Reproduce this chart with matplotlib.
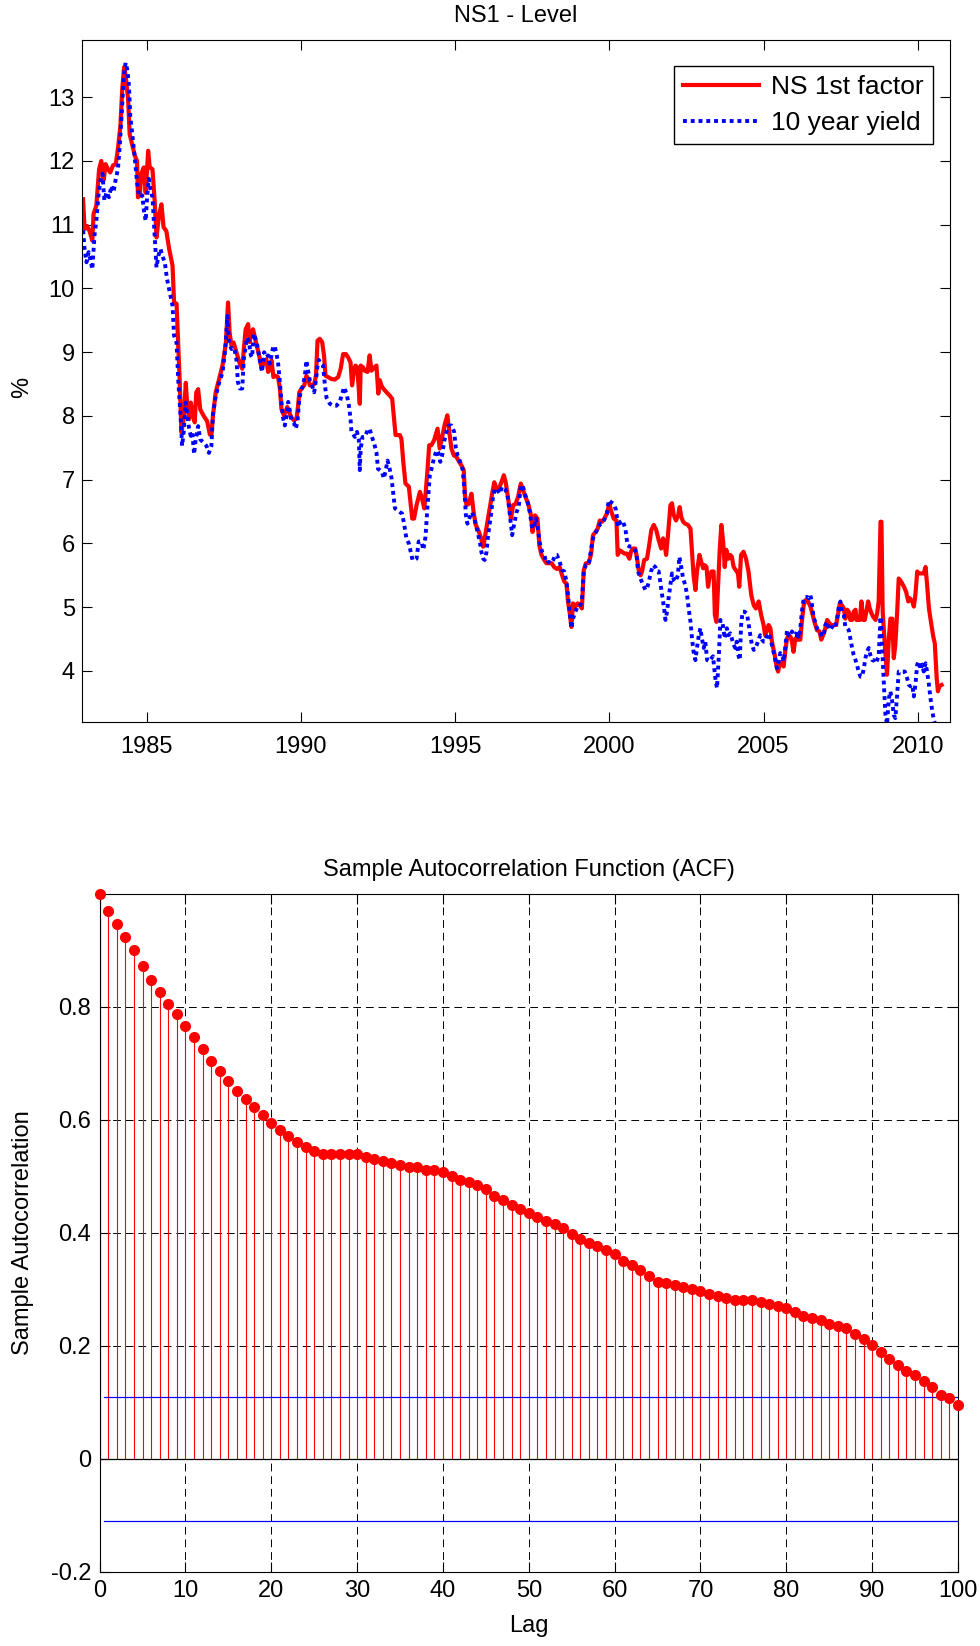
import matplotlib
matplotlib.use('Agg')
import matplotlib.pyplot as plt
import numpy as np

plt.rcParams['font.family'] = ['Liberation Sans', 'DejaVu Sans']

# NS 1st factor (level): (year, %)
ns_factor = [
    (1982.94, 11.40), (1982.99, 10.93), (1983.07, 10.98), (1983.15, 10.90), (1983.24, 10.75),
    (1983.28, 11.17), (1983.37, 11.30), (1983.46, 11.87), (1983.53, 12.00), (1983.61, 11.70),
    (1983.67, 11.95), (1983.75, 11.87), (1983.82, 11.82), (1983.91, 11.93), (1984.00, 11.95),
    (1984.07, 12.19), (1984.15, 12.55), (1984.21, 13.13), (1984.27, 13.47), (1984.32, 13.34),
    (1984.40, 12.97), (1984.45, 12.42), (1984.54, 12.24), (1984.62, 12.08), (1984.69, 12.00),
    (1984.72, 11.43), (1984.78, 11.46), (1984.83, 11.80), (1984.91, 11.90), (1984.97, 11.50),
    (1985.05, 12.16), (1985.10, 11.90), (1985.19, 11.87), (1985.26, 11.38), (1985.32, 10.80),
    (1985.40, 11.14), (1985.48, 11.32), (1985.55, 10.96), (1985.64, 10.90), (1985.73, 10.62),
    (1985.84, 10.36), (1985.89, 9.78), (1985.97, 9.76), (1986.02, 9.15), (1986.07, 8.58),
    (1986.13, 7.74), (1986.20, 7.95), (1986.27, 8.52), (1986.31, 8.21), (1986.38, 7.95),
    (1986.43, 8.21), (1986.51, 8.00), (1986.56, 7.90), (1986.61, 8.37), (1986.67, 8.42),
    (1986.74, 8.10), (1986.85, 8.00), (1986.96, 7.92), (1987.05, 7.71), (1987.10, 7.69),
    (1987.15, 8.00), (1987.24, 8.37), (1987.35, 8.58), (1987.46, 8.79), (1987.57, 9.15),
    (1987.64, 9.78), (1987.69, 9.31), (1987.75, 9.10), (1987.82, 9.15), (1987.94, 8.95),
    (1988.02, 8.82), (1988.10, 8.74), (1988.16, 9.10), (1988.21, 9.36), (1988.29, 9.44),
    (1988.34, 9.16), (1988.40, 9.31), (1988.45, 9.36), (1988.51, 9.23), (1988.57, 9.10),
    (1988.64, 8.97), (1988.72, 8.76), (1988.81, 8.84), (1988.88, 8.89), (1988.94, 8.69),
    (1988.99, 8.74), (1989.05, 8.87), (1989.11, 8.61), (1989.18, 8.63), (1989.26, 8.61),
    (1989.32, 8.43), (1989.37, 8.11), (1989.45, 8.01), (1989.50, 8.06), (1989.56, 8.14),
    (1989.62, 8.06), (1989.69, 7.98), (1989.78, 7.93), (1989.86, 7.96), (1989.91, 8.16),
    (1989.95, 8.37), (1990.02, 8.43), (1990.11, 8.48), (1990.18, 8.63), (1990.24, 8.58),
    (1990.29, 8.48), (1990.36, 8.48), (1990.43, 8.50), (1990.49, 8.63), (1990.54, 9.18),
    (1990.61, 9.21), (1990.69, 9.16), (1990.75, 8.95), (1990.80, 8.63), (1990.88, 8.61),
    (1990.99, 8.58), (1991.10, 8.57), (1991.21, 8.61), (1991.29, 8.74), (1991.37, 8.97),
    (1991.46, 8.97), (1991.53, 8.92), (1991.61, 8.84), (1991.66, 8.48), (1991.73, 8.74),
    (1991.77, 8.79), (1991.83, 8.76), (1991.91, 8.19), (1991.94, 8.79), (1992.02, 8.76),
    (1992.07, 8.71), (1992.16, 8.69), (1992.23, 8.95), (1992.29, 8.71), (1992.38, 8.76),
    (1992.45, 8.79), (1992.51, 8.35), (1992.56, 8.56), (1992.61, 8.48), (1992.67, 8.43),
    (1992.78, 8.37), (1992.88, 8.32), (1992.96, 8.27), (1993.02, 7.96), (1993.07, 7.70),
    (1993.21, 7.70), (1993.26, 7.64), (1993.32, 7.28), (1993.39, 6.94), (1993.50, 6.89),
    (1993.61, 6.39), (1993.67, 6.39), (1993.75, 6.60), (1993.86, 6.81), (1993.93, 6.70),
    (1994.00, 6.55), (1994.04, 6.76), (1994.10, 7.12), (1994.16, 7.54), (1994.23, 7.54),
    (1994.32, 7.62), (1994.43, 7.80), (1994.50, 7.49), (1994.58, 7.67), (1994.67, 7.88),
    (1994.75, 8.01), (1994.81, 7.75), (1994.88, 7.49), (1994.96, 7.38), (1995.04, 7.36),
    (1995.13, 7.28), (1995.21, 7.22), (1995.28, 7.15), (1995.32, 6.76), (1995.37, 6.60),
    (1995.44, 6.62), (1995.53, 6.78), (1995.60, 6.49), (1995.67, 6.29), (1995.75, 6.21),
    (1995.83, 6.10), (1995.91, 5.95), (1995.96, 6.08), (1996.05, 6.34), (1996.13, 6.57),
    (1996.20, 6.78), (1996.27, 6.96), (1996.34, 6.86), (1996.42, 6.86), (1996.50, 6.96),
    (1996.58, 7.07), (1996.64, 6.96), (1996.72, 6.70), (1996.81, 6.39), (1996.88, 6.60),
    (1996.96, 6.62), (1997.04, 6.73), (1997.13, 6.94), (1997.21, 6.83), (1997.28, 6.73),
    (1997.37, 6.62), (1997.46, 6.44), (1997.51, 6.18), (1997.59, 6.44), (1997.67, 6.39),
    (1997.73, 5.97), (1997.80, 5.82), (1997.89, 5.74), (1997.96, 5.69), (1998.04, 5.69),
    (1998.13, 5.69), (1998.21, 5.63), (1998.30, 5.60), (1998.39, 5.63), (1998.47, 5.50),
    (1998.54, 5.40), (1998.61, 5.37), (1998.66, 5.09), (1998.71, 4.93), (1998.77, 4.69),
    (1998.82, 5.06), (1998.90, 5.01), (1998.97, 5.06), (1999.04, 5.03), (1999.11, 4.98),
    (1999.17, 5.58), (1999.24, 5.69), (1999.33, 5.69), (1999.41, 5.84), (1999.47, 6.13),
    (1999.55, 6.18), (1999.62, 6.23), (1999.69, 6.36), (1999.76, 6.34), (1999.84, 6.39),
    (1999.92, 6.47), (2000.00, 6.62), (2000.05, 6.52), (2000.14, 6.39), (2000.23, 6.36),
    (2000.27, 5.82), (2000.34, 5.89), (2000.41, 5.87), (2000.49, 5.84), (2000.57, 5.84),
    (2000.65, 5.76), (2000.70, 5.87), (2000.77, 5.92), (2000.84, 5.92), (2000.90, 5.76),
    (2000.95, 5.58), (2001.01, 5.50), (2001.06, 5.56), (2001.13, 5.74), (2001.22, 5.76),
    (2001.29, 5.97), (2001.36, 6.21), (2001.44, 6.29), (2001.52, 6.21), (2001.60, 6.05),
    (2001.68, 5.92), (2001.74, 6.08), (2001.78, 6.02), (2001.84, 5.82), (2001.90, 6.13),
    (2001.98, 6.60), (2002.03, 6.63), (2002.09, 6.44), (2002.16, 6.36), (2002.23, 6.44),
    (2002.28, 6.57), (2002.33, 6.42), (2002.39, 6.34), (2002.46, 6.31), (2002.55, 6.29),
    (2002.63, 6.23), (2002.68, 5.87), (2002.73, 5.50), (2002.79, 5.27), (2002.84, 5.56),
    (2002.92, 5.82), (2002.98, 5.71), (2003.04, 5.61), (2003.09, 5.66), (2003.15, 5.63),
    (2003.20, 5.32), (2003.24, 5.45), (2003.31, 5.56), (2003.38, 5.56), (2003.42, 4.88),
    (2003.47, 4.77), (2003.52, 5.29), (2003.58, 5.92), (2003.63, 6.29), (2003.69, 6.02),
    (2003.74, 5.63), (2003.79, 5.90), (2003.86, 5.76), (2003.92, 5.82), (2003.97, 5.79),
    (2004.03, 5.63), (2004.10, 5.58), (2004.17, 5.53), (2004.21, 5.32), (2004.27, 5.82),
    (2004.35, 5.87), (2004.43, 5.76), (2004.51, 5.56), (2004.60, 5.19), (2004.68, 5.03),
    (2004.75, 4.98), (2004.84, 5.09), (2004.92, 4.88), (2005.00, 4.72), (2005.05, 4.56),
    (2005.11, 4.64), (2005.16, 4.72), (2005.22, 4.67), (2005.27, 4.46), (2005.36, 4.25),
    (2005.41, 4.10), (2005.47, 3.99), (2005.52, 4.10), (2005.60, 4.15), (2005.65, 4.07),
    (2005.70, 4.30), (2005.76, 4.51), (2005.81, 4.56), (2005.87, 4.54), (2005.92, 4.46),
    (2005.97, 4.30), (2006.03, 4.51), (2006.11, 4.49), (2006.19, 4.49), (2006.24, 4.77),
    (2006.30, 5.03), (2006.35, 5.11), (2006.44, 5.09), (2006.52, 5.01), (2006.59, 4.88),
    (2006.66, 4.75), (2006.73, 4.64), (2006.81, 4.62), (2006.87, 4.49), (2006.95, 4.59),
    (2007.00, 4.67), (2007.06, 4.80), (2007.13, 4.75), (2007.20, 4.72), (2007.27, 4.72),
    (2007.35, 4.72), (2007.41, 4.88), (2007.47, 5.06), (2007.54, 5.03), (2007.60, 4.98),
    (2007.65, 4.82), (2007.71, 4.96), (2007.76, 4.93), (2007.81, 4.80), (2007.87, 4.80),
    (2007.92, 4.93), (2007.98, 4.96), (2008.01, 4.80), (2008.06, 4.80), (2008.12, 4.80),
    (2008.17, 5.09), (2008.23, 4.80), (2008.28, 4.80), (2008.33, 4.93), (2008.39, 5.09),
    (2008.44, 4.98), (2008.50, 4.90), (2008.55, 4.85), (2008.63, 4.80), (2008.68, 4.90),
    (2008.73, 5.09), (2008.79, 6.34), (2008.82, 6.34), (2008.86, 4.93), (2008.93, 4.41),
    (2009.00, 3.94), (2009.06, 4.51), (2009.11, 4.82), (2009.17, 4.82), (2009.22, 4.20),
    (2009.27, 4.41), (2009.33, 4.93), (2009.38, 5.45), (2009.46, 5.40), (2009.55, 5.32),
    (2009.62, 5.24), (2009.69, 5.09), (2009.74, 5.14), (2009.82, 5.09), (2009.87, 5.01),
    (2009.92, 5.19), (2009.98, 5.56), (2010.03, 5.53), (2010.12, 5.53), (2010.19, 5.53),
    (2010.25, 5.63), (2010.30, 5.35), (2010.36, 4.98), (2010.44, 4.72), (2010.50, 4.54),
    (2010.55, 4.43), (2010.61, 3.89), (2010.65, 3.68), (2010.70, 3.76), (2010.77, 3.78),
]

# 10 year yield: (year, %)
yield_10y = [
    (1982.94, 10.91), (1982.99, 10.62), (1983.05, 10.41), (1983.12, 10.57), (1983.19, 10.43),
    (1983.24, 10.30), (1983.31, 10.83), (1983.37, 11.06), (1983.44, 11.46), (1983.50, 11.69),
    (1983.57, 11.80), (1983.63, 11.38), (1983.70, 11.51), (1983.78, 11.43), (1983.86, 11.61),
    (1983.93, 11.51), (1984.00, 11.72), (1984.07, 11.87), (1984.13, 12.24), (1984.19, 12.71),
    (1984.26, 13.34), (1984.32, 13.54), (1984.38, 13.42), (1984.43, 13.16), (1984.47, 12.71),
    (1984.54, 12.40), (1984.61, 12.08), (1984.69, 11.66), (1984.75, 11.46), (1984.81, 11.43),
    (1984.86, 11.46), (1984.92, 11.19), (1984.97, 11.06), (1985.02, 11.46), (1985.07, 11.72),
    (1985.12, 11.56), (1985.19, 11.43), (1985.25, 10.93), (1985.32, 10.33), (1985.38, 10.51),
    (1985.45, 10.62), (1985.51, 10.51), (1985.59, 10.41), (1985.66, 10.15), (1985.75, 9.94),
    (1985.84, 9.73), (1985.89, 9.26), (1985.97, 9.15), (1986.03, 8.52), (1986.10, 8.00),
    (1986.15, 7.53), (1986.20, 7.74), (1986.27, 8.21), (1986.32, 8.00), (1986.38, 7.79),
    (1986.43, 7.69), (1986.48, 7.74), (1986.54, 7.40), (1986.59, 7.63), (1986.67, 7.84),
    (1986.74, 7.63), (1986.85, 7.58), (1986.94, 7.53), (1987.02, 7.42), (1987.10, 7.53),
    (1987.15, 8.03), (1987.24, 8.31), (1987.35, 8.52), (1987.46, 8.68), (1987.55, 9.05),
    (1987.62, 9.57), (1987.67, 9.15), (1987.75, 9.05), (1987.82, 9.07), (1987.86, 9.02),
    (1987.91, 8.89), (1987.96, 8.53), (1988.02, 8.43), (1988.10, 8.43), (1988.15, 8.89),
    (1988.20, 9.05), (1988.26, 9.23), (1988.31, 9.18), (1988.38, 8.95), (1988.42, 8.92),
    (1988.47, 9.29), (1988.53, 9.21), (1988.57, 9.16), (1988.64, 8.95), (1988.70, 8.79),
    (1988.74, 8.69), (1988.81, 9.00), (1988.88, 8.92), (1988.94, 8.95), (1988.99, 8.82),
    (1989.05, 8.95), (1989.10, 9.08), (1989.15, 9.10), (1989.21, 8.97), (1989.26, 8.84),
    (1989.32, 8.53), (1989.37, 8.22), (1989.42, 7.98), (1989.48, 7.85), (1989.53, 7.98),
    (1989.59, 8.22), (1989.64, 8.09), (1989.69, 7.93), (1989.77, 7.90), (1989.83, 7.80),
    (1989.89, 7.90), (1989.94, 8.22), (1989.99, 8.37), (1990.07, 8.48), (1990.13, 8.63),
    (1990.18, 8.87), (1990.24, 8.69), (1990.29, 8.56), (1990.36, 8.48), (1990.43, 8.37),
    (1990.48, 8.53), (1990.54, 8.79), (1990.58, 8.88), (1990.65, 8.82), (1990.72, 8.79),
    (1990.78, 8.48), (1990.83, 8.29), (1990.94, 8.19), (1991.05, 8.16), (1991.15, 8.16),
    (1991.26, 8.22), (1991.34, 8.35), (1991.40, 8.45), (1991.48, 8.35), (1991.55, 8.19),
    (1991.61, 7.96), (1991.64, 7.75), (1991.69, 7.72), (1991.75, 7.67), (1991.82, 7.75),
    (1991.88, 7.62), (1991.91, 7.15), (1991.94, 7.49), (1992.00, 7.67), (1992.07, 7.67),
    (1992.16, 7.77), (1992.23, 7.80), (1992.29, 7.69), (1992.38, 7.56), (1992.45, 7.43),
    (1992.50, 7.17), (1992.56, 7.15), (1992.63, 7.12), (1992.69, 7.02), (1992.74, 7.12),
    (1992.81, 7.30), (1992.88, 7.17), (1992.94, 7.02), (1992.99, 6.81), (1993.05, 6.55),
    (1993.13, 6.52), (1993.21, 6.49), (1993.28, 6.47), (1993.35, 6.30), (1993.42, 6.08),
    (1993.50, 6.00), (1993.56, 5.87), (1993.62, 5.74), (1993.69, 5.74), (1993.75, 5.76),
    (1993.82, 6.03), (1993.91, 6.03), (1993.97, 5.90), (1994.04, 6.10), (1994.10, 6.55),
    (1994.18, 7.07), (1994.26, 7.22), (1994.32, 7.35), (1994.40, 7.46), (1994.45, 7.43),
    (1994.52, 7.28), (1994.58, 7.38), (1994.64, 7.59), (1994.72, 7.75), (1994.79, 7.85),
    (1994.88, 7.85), (1994.97, 7.75), (1995.02, 7.51), (1995.08, 7.38), (1995.15, 7.30),
    (1995.24, 7.17), (1995.29, 6.91), (1995.35, 6.44), (1995.40, 6.31), (1995.48, 6.42),
    (1995.55, 6.49), (1995.62, 6.39), (1995.69, 6.26), (1995.75, 6.13), (1995.80, 6.03),
    (1995.85, 5.87), (1995.91, 5.76), (1995.96, 5.74), (1996.02, 5.87), (1996.07, 6.13),
    (1996.16, 6.44), (1996.23, 6.73), (1996.29, 6.86), (1996.34, 6.86), (1996.45, 6.78),
    (1996.52, 6.89), (1996.61, 6.86), (1996.69, 6.78), (1996.74, 6.60), (1996.81, 6.29),
    (1996.85, 6.13), (1996.91, 6.29), (1996.99, 6.49), (1997.06, 6.57), (1997.13, 6.91),
    (1997.19, 6.91), (1997.26, 6.78), (1997.35, 6.65), (1997.42, 6.49), (1997.50, 6.23),
    (1997.56, 6.26), (1997.62, 6.39), (1997.69, 6.21), (1997.75, 6.00), (1997.82, 5.87),
    (1997.89, 5.82), (1997.96, 5.69), (1998.04, 5.71), (1998.10, 5.69), (1998.18, 5.74),
    (1998.25, 5.82), (1998.30, 5.82), (1998.39, 5.71), (1998.47, 5.58), (1998.54, 5.56),
    (1998.61, 5.40), (1998.66, 5.19), (1998.71, 4.93), (1998.77, 4.67), (1998.82, 4.82),
    (1998.90, 4.93), (1998.97, 5.01), (1999.04, 5.01), (1999.11, 5.09), (1999.17, 5.56),
    (1999.24, 5.66), (1999.33, 5.66), (1999.41, 5.92), (1999.47, 6.08), (1999.55, 6.16),
    (1999.62, 6.23), (1999.71, 6.31), (1999.78, 6.31), (1999.85, 6.39), (1999.92, 6.47),
    (1999.98, 6.68), (2000.05, 6.65), (2000.14, 6.62), (2000.22, 6.52), (2000.28, 6.26),
    (2000.36, 6.34), (2000.43, 6.36), (2000.52, 6.23), (2000.59, 5.97), (2000.66, 5.95),
    (2000.73, 5.95), (2000.81, 5.92), (2000.88, 5.84), (2000.93, 5.56), (2001.01, 5.45),
    (2001.09, 5.35), (2001.17, 5.27), (2001.22, 5.29), (2001.28, 5.40), (2001.35, 5.56),
    (2001.42, 5.66), (2001.49, 5.63), (2001.55, 5.56), (2001.60, 5.56), (2001.65, 5.40),
    (2001.71, 5.19), (2001.76, 5.03), (2001.82, 4.80), (2001.87, 4.93), (2001.92, 5.14),
    (2001.98, 5.35), (2002.03, 5.53), (2002.09, 5.43), (2002.15, 5.40), (2002.22, 5.50),
    (2002.27, 5.79), (2002.32, 5.66), (2002.39, 5.45), (2002.46, 5.35), (2002.52, 5.19),
    (2002.57, 4.98), (2002.63, 4.77), (2002.68, 4.51), (2002.73, 4.30), (2002.79, 4.17),
    (2002.84, 4.36), (2002.90, 4.56), (2002.95, 4.67), (2003.00, 4.51), (2003.06, 4.36),
    (2003.11, 4.46), (2003.17, 4.17), (2003.24, 4.15), (2003.31, 4.20), (2003.36, 4.23),
    (2003.40, 4.04), (2003.45, 3.83), (2003.49, 3.73), (2003.55, 4.25), (2003.60, 4.80),
    (2003.67, 4.75), (2003.74, 4.51), (2003.81, 4.67), (2003.86, 4.56), (2003.92, 4.59),
    (2003.97, 4.51), (2004.03, 4.41), (2004.08, 4.36), (2004.13, 4.46), (2004.19, 4.23),
    (2004.23, 4.17), (2004.27, 4.72), (2004.32, 4.93), (2004.38, 4.93), (2004.46, 4.90),
    (2004.51, 4.75), (2004.57, 4.56), (2004.62, 4.41), (2004.68, 4.33), (2004.73, 4.36),
    (2004.78, 4.41), (2004.84, 4.49), (2004.89, 4.56), (2004.95, 4.49), (2005.00, 4.46),
    (2005.05, 4.46), (2005.11, 4.56), (2005.16, 4.59), (2005.22, 4.51), (2005.27, 4.41),
    (2005.32, 4.30), (2005.38, 4.17), (2005.43, 4.04), (2005.49, 4.15), (2005.54, 4.28),
    (2005.60, 4.25), (2005.65, 4.15), (2005.70, 4.36), (2005.76, 4.64), (2005.81, 4.56),
    (2005.87, 4.54), (2005.92, 4.62), (2005.97, 4.56), (2006.03, 4.56), (2006.08, 4.62),
    (2006.14, 4.51), (2006.19, 4.67), (2006.24, 4.93), (2006.30, 5.14), (2006.35, 5.16),
    (2006.41, 5.16), (2006.46, 5.14), (2006.52, 5.19), (2006.57, 5.03), (2006.62, 4.85),
    (2006.68, 4.75), (2006.73, 4.67), (2006.79, 4.64), (2006.84, 4.59), (2006.89, 4.54),
    (2006.95, 4.56), (2007.00, 4.72), (2007.06, 4.77), (2007.11, 4.69), (2007.16, 4.64),
    (2007.22, 4.69), (2007.27, 4.72), (2007.33, 4.69), (2007.38, 4.82), (2007.44, 5.01),
    (2007.49, 5.09), (2007.54, 4.93), (2007.60, 4.88), (2007.65, 4.69), (2007.71, 4.67),
    (2007.76, 4.64), (2007.81, 4.51), (2007.87, 4.36), (2007.92, 4.25), (2007.98, 4.17),
    (2008.03, 4.09), (2008.08, 3.99), (2008.14, 3.91), (2008.19, 3.91), (2008.25, 4.04),
    (2008.30, 4.20), (2008.35, 4.30), (2008.41, 4.36), (2008.46, 4.25), (2008.52, 4.17),
    (2008.57, 4.17), (2008.63, 4.12), (2008.68, 4.17), (2008.73, 4.23), (2008.79, 4.85),
    (2008.82, 4.62), (2008.86, 4.20), (2008.91, 3.68), (2008.95, 3.31), (2009.00, 3.16),
    (2009.06, 3.57), (2009.11, 3.68), (2009.17, 3.52), (2009.22, 3.31), (2009.27, 3.26),
    (2009.33, 3.63), (2009.38, 3.99), (2009.44, 3.99), (2009.49, 3.99), (2009.58, 3.99),
    (2009.65, 3.89), (2009.71, 3.78), (2009.76, 3.76), (2009.82, 3.78), (2009.87, 3.60),
    (2009.92, 3.78), (2009.98, 4.10), (2010.03, 4.15), (2010.09, 4.02), (2010.14, 4.10),
    (2010.19, 3.99), (2010.25, 4.12), (2010.30, 3.99), (2010.36, 3.78), (2010.41, 3.57),
    (2010.47, 3.36), (2010.52, 3.23), (2010.57, 3.16),
]

# sample autocorrelation, lags 0..100
acf_values = [
    1.000, 0.969, 0.946, 0.924, 0.900, 0.872, 0.848, 0.827, 0.805, 0.788,
    0.767, 0.746, 0.725, 0.704, 0.686, 0.669, 0.651, 0.637, 0.623, 0.609,
    0.595, 0.582, 0.571, 0.561, 0.552, 0.545, 0.540, 0.540, 0.540, 0.540,
    0.540, 0.535, 0.531, 0.527, 0.524, 0.520, 0.516, 0.516, 0.512, 0.512,
    0.508, 0.501, 0.494, 0.491, 0.485, 0.477, 0.466, 0.459, 0.449, 0.443,
    0.435, 0.428, 0.422, 0.415, 0.408, 0.398, 0.390, 0.383, 0.376, 0.369,
    0.362, 0.351, 0.344, 0.334, 0.323, 0.314, 0.311, 0.307, 0.304, 0.300,
    0.297, 0.292, 0.288, 0.285, 0.281, 0.281, 0.281, 0.278, 0.274, 0.271,
    0.267, 0.260, 0.253, 0.250, 0.246, 0.239, 0.236, 0.232, 0.222, 0.212,
    0.201, 0.189, 0.177, 0.166, 0.156, 0.149, 0.138, 0.128, 0.114, 0.107,
    0.096,
]
acf_bound = 0.1096
lags = np.arange(len(acf_values))

ns_t, ns_v = np.array(ns_factor).T
y10_t, y10_v = np.array(yield_10y).T

fig = plt.figure(figsize=(9.8, 16.46), dpi=100)

# --- top panel: level factor vs 10y yield
ax1 = fig.add_axes([0.0835, 0.5614, 0.8855, 0.4144])
ax1.plot(ns_t, ns_v, color='red', linewidth=3, label='NS 1st factor')
ax1.plot(y10_t, y10_v, color='blue', linewidth=2.8, linestyle=(0, (1, 1)),
         label='10 year yield')
ax1.set_xlim(1982.9, 2011.03)
ax1.set_ylim(3.2, 13.9)
ax1.set_xticks([1985, 1990, 1995, 2000, 2005, 2010])
ax1.set_yticks(range(4, 14))
ax1.tick_params(direction='in', top=True, right=True, length=7, labelsize=17)
ax1.tick_params(axis='x', pad=10)
ax1.tick_params(axis='y', pad=5)
ax1.set_title('NS1 - Level', fontsize=17, pad=13)
ax1.set_ylabel('%', fontsize=17)
ax1.yaxis.set_label_coords(-0.056, 0.49)
leg = ax1.legend(loc='upper right', bbox_to_anchor=(0.981, 0.962), borderaxespad=0,
                 fontsize=19, handlelength=2.9, handletextpad=0.45, labelspacing=0.45,
                 borderpad=0.35, fancybox=False, framealpha=1)
leg.get_frame().set_edgecolor('black')
leg.get_frame().set_linewidth(1)

# --- bottom panel: ACF
ax2 = fig.add_axes([0.1017, 0.045, 0.8758, 0.4119])
ax2.vlines(lags, 0, acf_values, color='red', linewidth=0.8)
ax2.plot(lags, acf_values, 'o', color='red', markersize=7, clip_on=False, zorder=4)
ax2.axhline(0, color='black', linewidth=0.9, zorder=3)
ax2.plot([0.5, 100], [acf_bound, acf_bound], color='blue', linewidth=0.9)
ax2.plot([0.5, 100], [-acf_bound, -acf_bound], color='blue', linewidth=0.9)
ax2.set_xlim(0, 100)
ax2.set_ylim(-0.2, 1.0)
ax2.set_xticks(range(0, 101, 10))
ax2.set_yticks([-0.2, 0, 0.2, 0.4, 0.6, 0.8])
ax2.set_yticklabels(['-0.2', '0', '0.2', '0.4', '0.6', '0.8'])
ax2.grid(True, color='black', linestyle=(0, (8, 5)), linewidth=0.7)
ax2.set_axisbelow(True)
ax2.tick_params(direction='in', top=True, right=True, length=7, labelsize=17)
ax2.tick_params(axis='x', pad=6)
ax2.tick_params(axis='y', pad=6)
ax2.set_title('Sample Autocorrelation Function (ACF)', fontsize=17, pad=13)
ax2.set_xlabel('Lag', fontsize=17)
ax2.set_ylabel('Sample Autocorrelation', fontsize=17)
ax2.xaxis.set_label_coords(0.5, -0.063)
ax2.yaxis.set_label_coords(-0.077, 0.5)

fig.savefig('out.png', dpi=100)
